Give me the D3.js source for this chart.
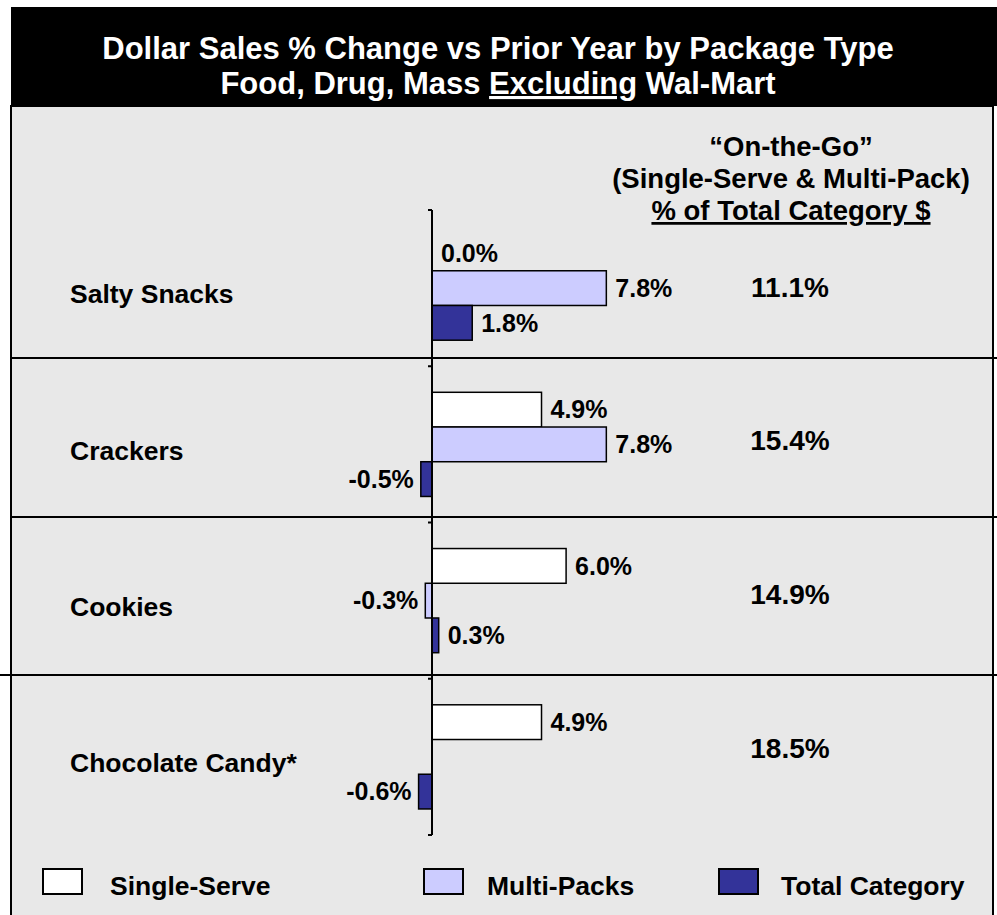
<!DOCTYPE html>
<html>
<head>
<meta charset="utf-8">
<script src="https://cdn.jsdelivr.net/npm/d3@7"></script>
<style>
  body { margin: 0; background: #ffffff; }
  text { font-family: "Liberation Sans", Arial, Helvetica, sans-serif; font-weight: bold; }
</style>
</head>
<body>
<svg id="chart" width="997" height="915"></svg>
<script>
// ---- data ----
const categories = ["Salty Snacks", "Crackers", "Cookies", "Chocolate Candy*"];
const seriesNames = ["Single-Serve", "Multi-Packs", "Total Category"];
const singleServe = [0.0, 4.9, 6.0, 4.9];
const multiPacks = [7.8, 7.8, -0.3, null];
const totalCategory = [1.8, -0.5, 0.3, -0.6];
const onTheGoShare = [11.1, 15.4, 14.9, 18.5];
const seriesColors = ["#FFFFFF", "#CCCCFF", "#333399"];

const titleLine1 = "Dollar Sales % Change vs Prior Year by Package Type";
const titleLine2 = ["Food, Drug, Mass ", "Excluding", " Wal-Mart"];
const sideHeader = ["\u201COn-the-Go\u201D", "(Single-Serve & Multi-Pack)", "%  of Total Category $"];

const seriesValues = [singleServe, multiPacks, totalCategory];
const rows = categories.map((c, i) => ({
  category: c,
  bars: seriesNames.map((s, j) => ({ series: s, value: seriesValues[j][i], color: seriesColors[j] }))
}));

const svg = d3.select("#chart");
// percent label with a plain hyphen for negatives
const fmt = v => (v < 0 ? "-" : "") + d3.format(".1f")(Math.abs(v)) + "%";

// ---- frame ----
svg.append("rect").attr("x", 11).attr("y", 106).attr("width", 982).attr("height", 820)
  .attr("fill", "#E8E8E8").attr("stroke", "#000").attr("stroke-width", 2);
svg.append("rect").attr("x", 11).attr("y", 7).attr("width", 986).attr("height", 99).attr("fill", "#000");

svg.append("text").attr("x", 498).attr("y", 59).attr("text-anchor", "middle")
  .attr("fill", "#fff").attr("font-size", 31).text(titleLine1);
const t2 = svg.append("text").attr("x", 498).attr("y", 94).attr("text-anchor", "middle")
  .attr("fill", "#fff").attr("font-size", 31);
titleLine2.forEach((s, i) => {
  t2.append("tspan").text(s).style("text-decoration", i === 1 ? "underline" : "none");
});

// row separators
[358, 517].forEach(y => svg.append("line").attr("x1", 11).attr("x2", 997)
  .attr("y1", y).attr("y2", y).attr("stroke", "#000").attr("stroke-width", 2));
svg.append("line").attr("x1", 0).attr("x2", 997).attr("y1", 675).attr("y2", 675)
  .attr("stroke", "#000").attr("stroke-width", 2);

// ---- scales ----
const x = d3.scaleLinear().domain([0, 10]).range([432, 655.5]);
const y = d3.scaleBand().domain(categories).range([210, 835]);
const yInner = d3.scaleBand().domain(seriesNames).range([0, y.bandwidth()])
  .paddingInner(0).paddingOuter(0.75);
const ySide = d3.scalePoint().domain(categories).range([287, 748]);

// ---- bars ----
const groups = svg.selectAll("g.row").data(rows).join("g").attr("class", "row")
  .attr("transform", d => `translate(0,${y(d.category)})`);

const bars = groups.selectAll("g.bar").data(d => d.bars.filter(b => b.value !== null))
  .join("g").attr("class", "bar");

bars.append("rect")
  .attr("x", d => Math.min(x(0), x(d.value)))
  .attr("y", d => yInner(d.series))
  .attr("width", d => Math.abs(x(d.value) - x(0)))
  .attr("height", yInner.bandwidth())
  .attr("fill", d => d.color)
  .attr("stroke", "#000").attr("stroke-width", 1.5);

bars.append("text")
  .attr("x", d => d.value < 0 ? x(d.value) - 7 : x(d.value) + 9)
  .attr("y", d => yInner(d.series) + yInner.bandwidth() / 2)
  .attr("dy", "0.35em")
  .attr("text-anchor", d => d.value < 0 ? "end" : "start")
  .attr("font-size", 25).attr("fill", "#000")
  .text(d => fmt(d.value));

// ---- axis: vertical line with category boundary ticks ----
const axisG = svg.append("g").attr("transform", "translate(432,0)");
axisG.append("line").attr("y1", y.range()[0]).attr("y2", y.range()[1])
  .attr("stroke", "#000").attr("stroke-width", 2);
const tickYs = [...categories.map(c => y(c)), y.range()[1]];
axisG.selectAll("line.tick").data(tickYs).join("line").attr("class", "tick")
  .attr("x1", -4).attr("x2", 0).attr("y1", d => d).attr("y2", d => d)
  .attr("stroke", "#000").attr("stroke-width", 2);

// ---- category labels ----
svg.selectAll("text.cat").data(categories).join("text").attr("class", "cat")
  .attr("x", 70).attr("y", d => y(d) + y.bandwidth() / 2 + 6).attr("dy", "0.35em")
  .attr("font-size", 26.5).attr("fill", "#000").text(d => d);

// ---- side column ----
svg.selectAll("text.side").data(sideHeader).join("text").attr("class", "side")
  .attr("x", 791).attr("y", (d, i) => 156 + i * 32).attr("text-anchor", "middle")
  .attr("font-size", 27.5).attr("fill", "#000")
  .style("text-decoration", (d, i) => i === 2 ? "underline" : "none")
  .text(d => d);

svg.selectAll("text.share").data(onTheGoShare).join("text").attr("class", "share")
  .attr("x", 790).attr("y", (d, i) => ySide(categories[i])).attr("dy", "0.35em")
  .attr("text-anchor", "middle").attr("font-size", 28).attr("fill", "#000")
  .text(d => fmt(d));

// ---- legend ----
const legendX = [43, 424, 719];
const legend = svg.selectAll("g.legend").data(seriesNames).join("g").attr("class", "legend")
  .attr("transform", (d, i) => `translate(${legendX[i]},869)`);
legend.append("rect").attr("width", 39).attr("height", 25)
  .attr("fill", (d, i) => seriesColors[i]).attr("stroke", "#000").attr("stroke-width", 2);
legend.append("text").attr("x", (d, i) => [67, 63, 62][i]).attr("y", 26)
  .attr("font-size", 26.5).attr("fill", "#000").text(d => d);
</script>
</body>
</html>
